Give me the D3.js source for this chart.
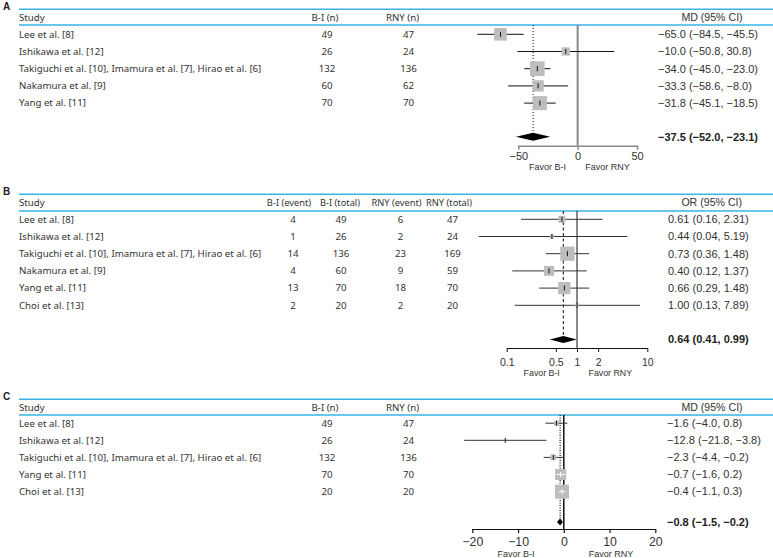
<!DOCTYPE html>
<html><head><meta charset="utf-8">
<script src="https://cdn.jsdelivr.net/npm/d3@7"></script>
<style>
body{margin:0;background:#fff;}
svg{display:block;}
</style></head>
<body>
<svg id="chart" width="773" height="558"></svg>
<script>
// ---------- DATA ----------
// Panel A
const studiesA = ["Lee et al. [8]", "Ishikawa et al. [12]", "Takiguchi et al. [10], Imamura et al. [7], Hirao et al. [6]", "Nakamura et al. [9]", "Yang et al. [11]"];
const biA = [49, 26, 132, 60, 70];
const rnyA = [47, 24, 136, 62, 70];
const mdA = [-65.0, -10.0, -34.0, -33.3, -31.8];
const loA = [-84.5, -50.8, -45.0, -58.6, -45.1];
const hiA = [-45.5, 30.8, -23.0, -8.0, -18.5];
const weightA = [20.9, 9.0, 28.1, 16.6, 25.5];
const summaryA = [-37.5, -52.0, -23.1];
const ticksA = [-50, 0, 50];

// Panel B
const studiesB = ["Lee et al. [8]", "Ishikawa et al. [12]", "Takiguchi et al. [10], Imamura et al. [7], Hirao et al. [6]", "Nakamura et al. [9]", "Yang et al. [11]", "Choi et al. [13]"];
const biEventB = [4, 1, 14, 4, 13, 2];
const biTotalB = [49, 26, 136, 60, 70, 20];
const rnyEventB = [6, 2, 23, 9, 18, 2];
const rnyTotalB = [47, 24, 169, 59, 70, 20];
const orB = [0.61, 0.44, 0.73, 0.40, 0.66, 1.00];
const loB = [0.16, 0.04, 0.36, 0.12, 0.29, 0.13];
const hiB = [2.31, 5.19, 1.48, 1.37, 1.48, 7.89];
const weightB = [9.2, 3.0, 38.2, 18.7, 28.3, 2.6];
const summaryB = [0.64, 0.41, 0.99];
const ticksB = [0.1, 0.5, 1, 2, 10];

// Panel C
const studiesC = ["Lee et al. [8]", "Ishikawa et al. [12]", "Takiguchi et al. [10], Imamura et al. [7], Hirao et al. [6]", "Yang et al. [11]", "Choi et al. [13]"];
const biC = [49, 26, 132, 70, 20];
const rnyC = [47, 24, 136, 70, 20];
const mdC = [-1.6, -12.8, -2.3, -0.7, -0.4];
const loC = [-4.0, -21.8, -4.4, -1.6, -1.1];
const hiC = [0.8, -3.8, -0.2, 0.2, 0.3];
const weightC = [6.7, 0.3, 8.7, 32.2, 52.2];
const summaryC = [-0.8, -1.5, -0.2];
const ticksC = [-20, -10, 0, 10, 20];

// ---------- STYLE ----------
const BLUE = "#3ab3e5";
const TXT = "#333";
const TABLE_FONT = "'Noto Sans', 'Open Sans', sans-serif";
const NUM_FONT = "'Liberation Sans', Arial, sans-serif";
const svg = d3.select("#chart");

function panel(cfg) {
  const g = svg.append("g");
  g.append("text").attr("x", 3).attr("y", cfg.top + 0.5)
    .attr("font-family", NUM_FONT).attr("font-weight", "bold").attr("font-size", 10)
    .attr("fill", "#222").text(cfg.letter);
  [cfg.top, cfg.headLine].forEach(y => {
    g.append("line").attr("x1", 19).attr("x2", 773).attr("y1", y).attr("y2", y)
      .attr("stroke", BLUE).attr("stroke-width", 1.6);
  });
  const headY = (cfg.top + cfg.headLine) / 2;
  g.append("text").attr("x", 19).attr("y", headY).attr("dy", "0.35em")
    .attr("font-family", TABLE_FONT).attr("font-size", cfg.tfs).attr("fill", TXT).text("Study");
  cfg.cols.forEach(c => {
    g.append("text").attr("x", c.hx).attr("y", headY).attr("dy", "0.35em").attr("text-anchor", "middle")
      .attr("font-family", TABLE_FONT).attr("font-size", cfg.hfs).attr("fill", TXT).text(c.name);
  });
  g.append("text").attr("x", cfg.effHx).attr("y", headY).attr("dy", "0.35em").attr("text-anchor", "middle")
    .attr("font-family", NUM_FONT).attr("font-size", 10.6).attr("fill", TXT).text(cfg.effName);

  const rowY = i => cfg.row0 + i * cfg.rowStep;
  cfg.studies.forEach((s, i) => {
    g.append("text").attr("x", 19).attr("y", rowY(i)).attr("dy", "0.35em")
      .attr("font-family", TABLE_FONT).attr("font-size", cfg.tfs).attr("fill", TXT).text(s);
    cfg.cols.forEach(c => {
      g.append("text").attr("x", c.vx).attr("y", rowY(i)).attr("dy", "0.35em").attr("text-anchor", "middle")
        .attr("font-family", TABLE_FONT).attr("font-size", cfg.tfs).attr("fill", TXT).text(c.values[i]);
    });
    g.append("text").attr("x", cfg.effX).attr("y", rowY(i)).attr("dy", "0.35em")
      .attr("font-family", NUM_FONT).attr("font-size", 11).attr("fill", TXT)
      .text(`${cfg.fmt(cfg.est[i])} (${cfg.fmt(cfg.lo[i])}, ${cfg.fmt(cfg.hi[i])})`);
  });
  g.append("text").attr("x", cfg.effX).attr("y", cfg.sumY).attr("dy", "0.35em")
    .attr("font-family", NUM_FONT).attr("font-size", 11).attr("font-weight", "bold").attr("fill", "#222")
    .text(`${cfg.fmt(cfg.summary[0])} (${cfg.fmt(cfg.summary[1])}, ${cfg.fmt(cfg.summary[2])})`);

  const x = cfg.x;
  g.append("line").attr("x1", x(cfg.nullV)).attr("x2", x(cfg.nullV))
    .attr("y1", cfg.headLine).attr("y2", cfg.axisY)
    .attr("stroke", cfg.nullColor).attr("stroke-width", cfg.nullWidth);
  g.append("line").attr("x1", x(cfg.summary[0])).attr("x2", x(cfg.summary[0]))
    .attr("y1", cfg.headLine).attr("y2", cfg.sumY - cfg.diaH)
    .attr("stroke", cfg.refColor).attr("stroke-width", cfg.refWidth).attr("stroke-dasharray", cfg.refDash);

  const size = d3.scaleSqrt().domain([0, 100]).range([0, cfg.sizeK]);
  cfg.est.forEach((v, i) => {
    const y = rowY(i);
    const s = size(cfg.w[i]);
    g.append("line").attr("x1", x(cfg.lo[i])).attr("x2", x(cfg.hi[i])).attr("y1", y).attr("y2", y)
      .attr("stroke", cfg.ciColor).attr("stroke-width", 1);
    g.append("rect").attr("x", x(v) - s / 2).attr("y", y - s / 2).attr("width", s).attr("height", s)
      .attr("fill", "#bdbdbd");
    const inside = (x(cfg.hi[i]) - x(cfg.lo[i])) < s;
    if (inside) {
      g.append("line").attr("x1", x(cfg.lo[i])).attr("x2", x(cfg.hi[i])).attr("y1", y).attr("y2", y)
        .attr("stroke", "#fff").attr("stroke-width", 1);
    }
    g.append("line").attr("x1", x(v)).attr("x2", x(v)).attr("y1", y - 2.5).attr("y2", y + 2.5)
      .attr("stroke", inside ? "#fff" : "#111").attr("stroke-width", 1);
  });
  const sy = cfg.sumY;
  g.append("path").attr("d",
    `M${x(cfg.summary[1])},${sy} L${x(cfg.summary[0])},${sy - cfg.diaH} L${x(cfg.summary[2])},${sy} L${x(cfg.summary[0])},${sy + cfg.diaH} Z`)
    .attr("fill", "#000");
  const axis = d3.axisBottom(x).tickValues(cfg.ticks).tickSize(4).tickSizeOuter(0).tickFormat(cfg.tickFmt);
  const ag = g.append("g").attr("transform", `translate(0,${cfg.axisY})`).call(axis);
  ag.select(".domain").attr("stroke", cfg.axisColor).attr("stroke-width", cfg.axisWidth);
  ag.selectAll(".tick line").attr("stroke", cfg.axisColor).attr("stroke-width", cfg.axisWidth);
  ag.selectAll(".tick text").attr("font-family", NUM_FONT).attr("font-size", cfg.tickFs).attr("fill", TXT)
    .attr("y", 0).attr("dy", null).attr("transform", `translate(0,${cfg.tickDy})`)
    .attr("dominant-baseline", "central");
  [["Favor B-I", cfg.favL], ["Favor RNY", cfg.favR]].forEach(([t, fx]) => {
    g.append("text").attr("x", fx).attr("y", cfg.favY).attr("dy", "0.35em").attr("text-anchor", "middle")
      .attr("font-family", NUM_FONT).attr("font-size", cfg.favFs).attr("fill", TXT).text(t);
  });
}

const f1 = d3.format(".1f");
const f2 = d3.format(".2f");

panel({
  letter: "A", top: 9.3, headLine: 25, row0: 34.3, rowStep: 17.2, sumY: 136.7, axisY: 145.7,
  tfs: 9.7, hfs: 9.7,
  studies: studiesA,
  cols: [{name: "B-I (n)", hx: 325, vx: 327, values: biA}, {name: "RNY (n)", hx: 402.5, vx: 408.5, values: rnyA}],
  effName: "MD (95% CI)", effHx: 712, effX: 658,
  est: mdA, lo: loA, hi: hiA, w: weightA, summary: summaryA, fmt: f1,
  x: d3.scaleLinear().domain([-50, 50]).range([518.3, 637]),
  nullV: 0, nullColor: "#888", nullWidth: 2,
  refColor: "#111", refWidth: 1, refDash: "1,2",
  ciColor: "#111", sizeK: 27.7, diaH: 4,
  ticks: ticksA, tickFmt: d3.format("d"), tickFs: 11, tickDy: 10.3, axisColor: "#888", axisWidth: 1.5,
  favL: 547.5, favR: 607.5, favY: 166.5, favFs: 9
});

panel({
  letter: "B", top: 194.3, headLine: 211, row0: 219.3, rowStep: 17.2, sumY: 339.5, axisY: 348,
  tfs: 9.7, hfs: 9.3,
  studies: studiesB,
  cols: [
    {name: "B-I (event)", hx: 289, vx: 293, values: biEventB},
    {name: "B-I (total)", hx: 340, vx: 341, values: biTotalB},
    {name: "RNY (event)", hx: 396.5, vx: 400.5, values: rnyEventB},
    {name: "RNY (total)", hx: 449, vx: 452.5, values: rnyTotalB}
  ],
  effName: "OR (95% CI)", effHx: 711.7, effX: 668,
  est: orB, lo: loB, hi: hiB, w: weightB, summary: summaryB, fmt: f2,
  x: d3.scaleLog().domain([0.1, 10]).range([506.7, 647.3]),
  nullV: 1, nullColor: "#111", nullWidth: 1,
  refColor: "#333", refWidth: 1.2, refDash: "3,2.5",
  ciColor: "#333", sizeK: 23.1, diaH: 3.6,
  ticks: ticksB, tickFmt: d3.format("~g"), tickFs: 10.5, tickDy: 13.7, axisColor: "#111", axisWidth: 1,
  favL: 541.7, favR: 610.3, favY: 372.5, favFs: 8.8
});

panel({
  letter: "C", top: 399.3, headLine: 415, row0: 423.2, rowStep: 17.1, sumY: 522, axisY: 529,
  tfs: 9.7, hfs: 9.7,
  studies: studiesC,
  cols: [{name: "B-I (n)", hx: 325, vx: 327, values: biC}, {name: "RNY (n)", hx: 402.5, vx: 408.5, values: rnyC}],
  effName: "MD (95% CI)", effHx: 712, effX: 667,
  est: mdC, lo: loC, hi: hiC, w: weightC, summary: summaryC, fmt: f1,
  x: d3.scaleLinear().domain([-20, 20]).range([472.3, 655.3]),
  nullV: 0, nullColor: "#111", nullWidth: 1.5,
  refColor: "#111", refWidth: 1.2, refDash: "1,1.5",
  ciColor: "#333", sizeK: 19.4, diaH: 3.5,
  ticks: ticksC, tickFmt: d3.format("d"), tickFs: 12.3, tickDy: 13.3, axisColor: "#111", axisWidth: 1.2,
  favL: 516, favR: 611, favY: 553.6, favFs: 9
});
</script>
</body></html>
